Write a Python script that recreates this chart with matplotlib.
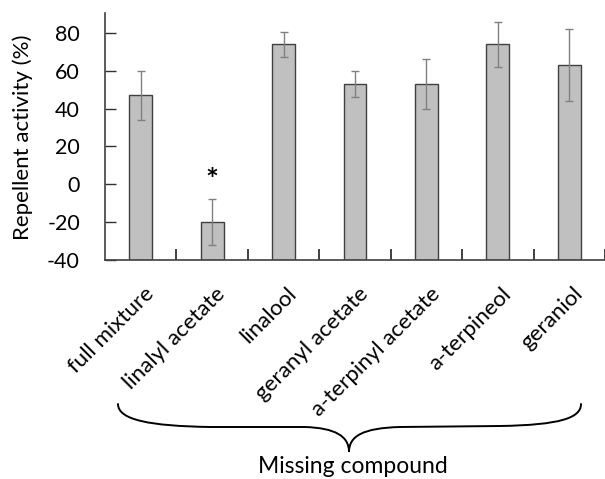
import matplotlib
matplotlib.use("Agg")
import matplotlib.pyplot as plt
import matplotlib.transforms as mtransforms
import numpy as np
from matplotlib.path import Path
from matplotlib.patches import PathPatch

# data
compounds = ['full mixture', 'linalyl acetate', 'linalool', 'geranyl acetate',
             'a-terpinyl acetate', 'a-terpineol', 'geraniol']
activity = [47, -20, 74, 53, 53, 74, 63]
err = [13, 12, 6.5, 7, 13, 12, 19]
yticks = [-40, -20, 0, 20, 40, 60, 80]

plt.rcParams['font.family'] = ['Lato', 'DejaVu Sans']
plt.rcParams['axes.unicode_minus'] = False

W, H = 605, 479
fig = plt.figure(figsize=(W / 100, H / 100), dpi=100)
ax = fig.add_axes([105 / W, 1 - 260 / H, 500 / W, 247 / H])

ybase = yticks[0]
x = np.arange(len(compounds))
# bars grow from the bottom of the axis (value axis crosses at -40)
ax.bar(x, np.array(activity) - ybase, width=0.32, bottom=ybase, color='#c0c0c0',
       edgecolor='#404040', linewidth=1.0, zorder=2)
ax.errorbar(x, activity, yerr=err, fmt='none', ecolor='#808080', elinewidth=1.0,
            capsize=2.8, capthick=1.0, zorder=3)

ax.set_xlim(-0.5, len(compounds) - 0.5)
ax.set_ylim(ybase, 90.5)
ax.set_yticks(yticks)
ax.tick_params(axis='y', direction='in', length=8, width=1, labelsize=15.5, colors='#303030',
               labelcolor='black', pad=18)
ax.set_xticks(x)
ax.set_xticklabels(compounds, rotation=45, ha='right', va='top', rotation_mode='anchor',
                   fontsize=16)
ax.tick_params(axis='x', which='major', length=0, pad=17)
shift = mtransforms.ScaledTranslation(0.03, 0, fig.dpi_scale_trans)
for lab in ax.get_xticklabels():
    lab.set_transform(lab.get_transform() + shift)
ax.set_xticks(np.arange(0.5, len(compounds), 1.0), minor=True)
ax.tick_params(axis='x', which='minor', direction='in', length=8, width=1.2, colors='#202020')

for s in ['top', 'right']:
    ax.spines[s].set_visible(False)
for s in ['left', 'bottom']:
    ax.spines[s].set_color('#404040')
    ax.spines[s].set_linewidth(1.2)

fig.text(23 / W, 1 - 137 / H, 'Repellent activity (%)', rotation=90, ha='center',
         va='center', fontsize=16)
ax.text(1, 2, '*', ha='center', va='center', fontsize=22, fontweight='bold')

# curly brace under the labels (pixel coordinates of the figure)
def fp(px, py):
    return (px / W, 1 - py / H)

verts = [fp(118, 404),
         fp(118, 420), fp(150, 426), fp(210, 427),
         fp(305, 427),
         fp(335, 428), fp(349, 436), fp(349, 452),
         fp(349, 436), fp(363, 428), fp(400, 427),
         fp(500, 426),
         fp(560, 425), fp(581, 418), fp(581, 404)]
codes = [Path.MOVETO,
         Path.CURVE4, Path.CURVE4, Path.CURVE4,
         Path.LINETO,
         Path.CURVE4, Path.CURVE4, Path.CURVE4,
         Path.CURVE4, Path.CURVE4, Path.CURVE4,
         Path.LINETO,
         Path.CURVE4, Path.CURVE4, Path.CURVE4]
fig.add_artist(PathPatch(Path(verts, codes), transform=fig.transFigure, fill=False,
                         edgecolor='black', linewidth=1.4, capstyle='round'))
fig.text(353 / W, 1 - 473 / H, 'Missing compound', ha='center', va='baseline', fontsize=16.5)

fig.savefig('out.png', dpi=100)
